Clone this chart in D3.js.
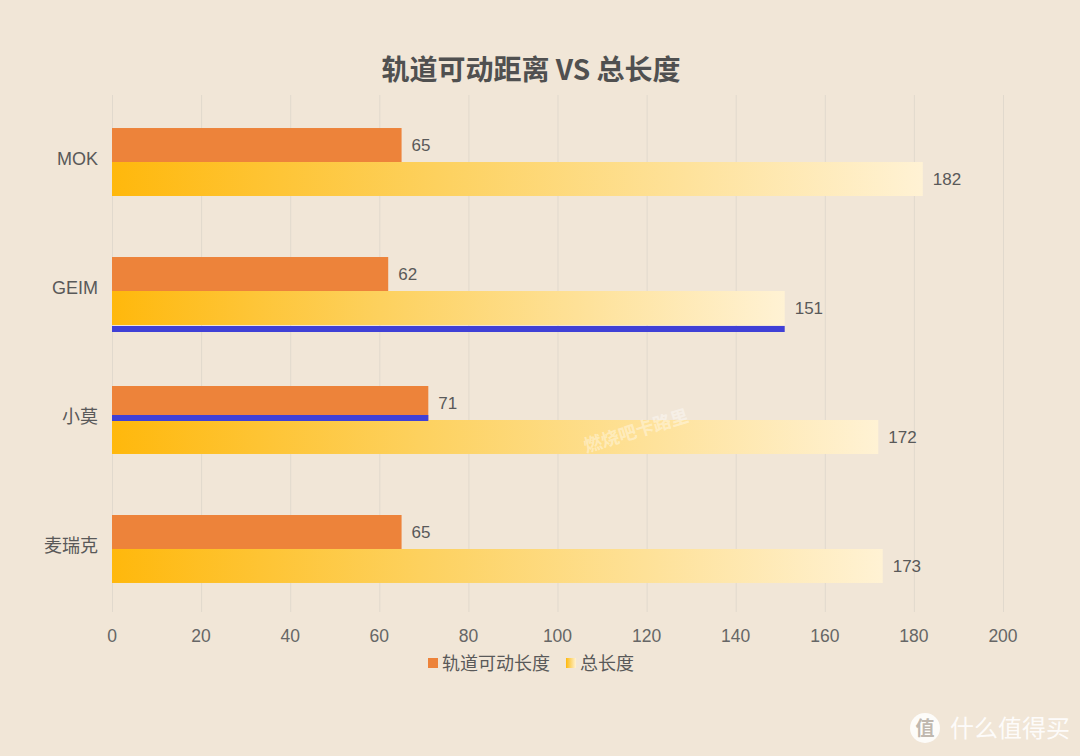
<!DOCTYPE html>
<html><head><meta charset="utf-8">
<script src="https://cdn.jsdelivr.net/npm/d3@7"></script>
<style>
html,body{margin:0;padding:0;background:#f1e6d7;}
svg{display:block;font-family:"Noto Sans CJK SC","Noto Sans",sans-serif;}
</style></head>
<body><svg id="c" width="1080" height="756"></svg>
<script>
const categories = ["MOK", "GEIM", "小莫", "麦瑞克"];
const seriesNames = ["轨道可动长度", "总长度"];
const travelValues = [65, 62, 71, 65];
const totalValues = [182, 151, 172, 173];
const xTicks = [0, 20, 40, 60, 80, 100, 120, 140, 160, 180, 200];
const highlights = [{cat: "GEIM", series: 1, value: 151}, {cat: "小莫", series: 0, value: 71}];
const title = "轨道可动距离 VS 总长度";

const latin = "'Liberation Sans', Arial, sans-serif";
const svg = d3.select("#c");
const W = 1080, H = 756;
svg.append("rect").attr("width", W).attr("height", H).attr("fill", "#f1e6d7");

const defs = svg.append("defs");
const g1 = defs.append("linearGradient").attr("id", "yg").attr("x1", "0").attr("y1", "0").attr("x2", "1").attr("y2", "0");
g1.append("stop").attr("offset", "0").attr("stop-color", "#ffb80c");
g1.append("stop").attr("offset", "0.4").attr("stop-color", "#fdd15e");
g1.append("stop").attr("offset", "1").attr("stop-color", "#fff2d4");

const x = d3.scaleLinear().domain([0, 200]).range([112, 1003]);
const y = d3.scaleBand().domain(categories).range([95, 616]).paddingInner(0.473).paddingOuter(0.256);
const sub = d3.scaleBand().domain([0, 1]).range([0, y.bandwidth()]);

// gridlines
svg.append("g").selectAll("line").data(xTicks).join("line")
  .attr("x1", d => x(d) + 0.5).attr("x2", d => x(d) + 0.5)
  .attr("y1", 95).attr("y2", 612)
  .attr("stroke", "#e1d9cd").attr("stroke-width", 1);

// title
svg.append("text").attr("x", 531).attr("y", 80).attr("text-anchor", "middle")
  .attr("font-size", 28).attr("font-weight", "bold").attr("fill", "#505050").text(title);

// bars
const data = categories.map((c, i) => ({c, v: [travelValues[i], totalValues[i]]}));
const groups = svg.append("g").selectAll("g").data(data).join("g")
  .attr("transform", d => `translate(0,${y(d.c)})`);
groups.selectAll("rect").data(d => d.v.map((v, s) => ({v, s}))).join("rect")
  .attr("x", x(0)).attr("y", d => sub(d.s))
  .attr("width", d => x(d.v) - x(0)).attr("height", sub.bandwidth())
  .attr("fill", d => d.s === 0 ? "#ed833a" : "url(#yg)");
groups.selectAll("text").data(d => d.v.map((v, s) => ({v, s}))).join("text")
  .attr("x", d => x(d.v) + 10).attr("y", d => sub(d.s) + sub.bandwidth() / 2 + 6)
  .attr("font-size", 17).attr("fill", "#595959").attr("font-family", latin)
  .text(d => d.v);

// highlight lines
svg.append("g").selectAll("rect").data(highlights).join("rect")
  .attr("x", x(0))
  .attr("y", d => y(d.cat) + sub(d.series) + sub.bandwidth() - (d.series === 0 ? 5 : -1))
  .attr("width", d => x(d.value) - x(0)).attr("height", 6)
  .attr("fill", "#4040d6");

// y labels
svg.append("g").selectAll("text").data(categories).join("text")
  .attr("x", 98).attr("y", d => y(d) + y.bandwidth() / 2 + 3)
  .attr("text-anchor", "end").attr("font-size", 18).attr("fill", "#595959")
  .attr("font-family", d => /^[A-Za-z]+$/.test(d) ? latin : null)
  .text(d => d);

// x axis labels
svg.append("g").selectAll("text").data(xTicks).join("text")
  .attr("x", d => x(d)).attr("y", 642).attr("text-anchor", "middle")
  .attr("font-size", 17.5).attr("fill", "#666").attr("font-family", latin)
  .text(d => d);

// legend
const leg = svg.append("g");
const legItems = [{n: seriesNames[0], f: "#ed833a", x: 428}, {n: seriesNames[1], f: "url(#yg)", x: 566}];
leg.selectAll("rect").data(legItems).join("rect")
  .attr("x", d => d.x).attr("y", 658).attr("width", 10).attr("height", 10).attr("fill", d => d.f);
leg.selectAll("text").data(legItems).join("text")
  .attr("x", d => d.x + 14).attr("y", 670).attr("font-size", 18).attr("fill", "#595959").text(d => d.n);

// watermark
svg.append("text").attr("transform", "translate(638,437) rotate(-17)")
  .attr("text-anchor", "middle").attr("font-size", 18).attr("font-weight", "bold")
  .attr("fill", "#ffffff").attr("fill-opacity", 0.4).text("燃烧吧卡路里");

// logo
const lg = svg.append("g").attr("fill-opacity", 0.9);
lg.append("circle").attr("cx", 925).attr("cy", 728).attr("r", 15).attr("fill", "#ffffff").attr("fill-opacity", 0.85);
lg.append("text").attr("x", 925).attr("y", 735).attr("text-anchor", "middle").attr("font-size", 19)
  .attr("font-weight", "bold").attr("fill", "#b8afa5").text("值");
lg.append("text").attr("x", 950).attr("y", 737).attr("font-size", 24)
  .attr("fill", "#ffffff").text("什么值得买");
</script></body></html>
